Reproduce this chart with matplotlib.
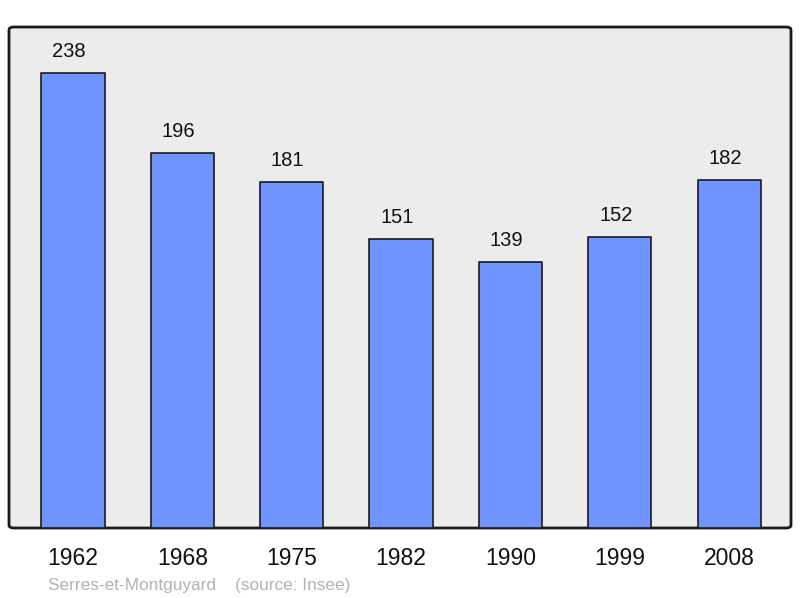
import matplotlib.pyplot as plt
from matplotlib.patches import FancyBboxPatch

years = ['1962', '1968', '1975', '1982', '1990', '1999', '2008']
population = [238, 196, 181, 151, 139, 152, 182]
caption = 'Serres-et-Montguyard    (source: Insee)'

plt.rcParams['font.family'] = ['Liberation Sans', 'DejaVu Sans']

fig = plt.figure(figsize=(8, 5.98), dpi=100)
ax = fig.add_axes([9 / 800, 70 / 598, 782 / 800, 501 / 598])
ax.set_xlim(-0.585, 6.565)
ax.set_ylim(0, 262)

# rounded grey background with black frame
for s in ax.spines.values():
    s.set_visible(False)
ax.patch.set_visible(False)
bg = FancyBboxPatch((0, 0), 1, 1, boxstyle='round,pad=0,rounding_size=0.006',
                    transform=ax.transAxes, facecolor='#ececec',
                    edgecolor='#1a1a1a', linewidth=2, zorder=0, clip_on=False)
ax.add_patch(bg)

x = list(range(len(years)))
bars = ax.bar(x, population, width=0.578, color='#7094ff',
              edgecolor='#1a1a1a', linewidth=1.2, zorder=2)
for b in bars:
    b.set_joinstyle('round')

for xi, v in zip(x, population):
    ax.annotate(str(v), (xi, v), xytext=(-4, 16), textcoords='offset pixels',
                ha='center', va='baseline', fontsize=14.5, color='#111111')

ax.set_xticks(x)
ax.set_xticklabels(years, fontsize=16.5, color='#111111')
ax.tick_params(axis='x', length=0, pad=14)
ax.set_yticks([])

fig.text(48 / 800, 1 - 590 / 598, caption, fontsize=12.4, color='#b3b3b3',
         ha='left', va='baseline')

fig.savefig('out.png', dpi=100, facecolor='white')
